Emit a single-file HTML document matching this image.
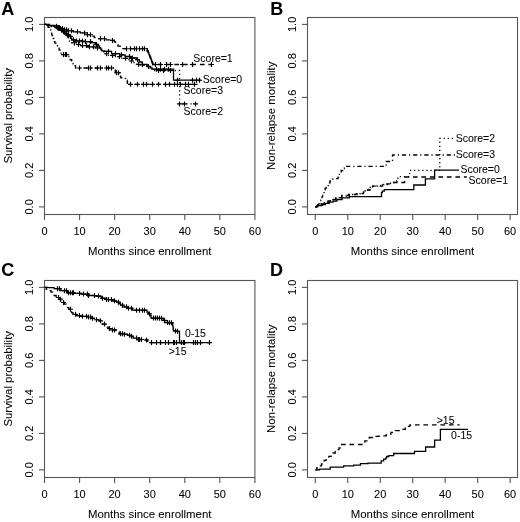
<!DOCTYPE html>
<html><head><meta charset="utf-8"><style>
html,body{margin:0;padding:0;background:#fff;}
body{width:520px;height:522px;overflow:hidden;}
svg{display:block;filter:blur(0.35px);}
text{font-family:"Liberation Sans", sans-serif;fill:#000;stroke:#000;stroke-width:0.05px;}
.t{font-size:11px;}
.ti{font-size:11.4px;}
.lg{font-size:10.5px;}
.lab{font-size:18px;font-weight:bold;fill:#000;}
</style></head><body>
<svg width="520" height="522" viewBox="0 0 520 522">
<rect width="520" height="522" fill="#fff"/>
<rect x="44.5" y="17.5" width="210.4" height="197.0" fill="none" stroke="#555" stroke-width="1.1"/>
<line x1="44.50" y1="214.5" x2="44.50" y2="220.0" stroke="#555" stroke-width="1.1"/>
<text x="44.50" y="234.5" class="t" text-anchor="middle">0</text>
<line x1="79.57" y1="214.5" x2="79.57" y2="220.0" stroke="#555" stroke-width="1.1"/>
<text x="79.57" y="234.5" class="t" text-anchor="middle">10</text>
<line x1="114.64" y1="214.5" x2="114.64" y2="220.0" stroke="#555" stroke-width="1.1"/>
<text x="114.64" y="234.5" class="t" text-anchor="middle">20</text>
<line x1="149.71" y1="214.5" x2="149.71" y2="220.0" stroke="#555" stroke-width="1.1"/>
<text x="149.71" y="234.5" class="t" text-anchor="middle">30</text>
<line x1="184.78" y1="214.5" x2="184.78" y2="220.0" stroke="#555" stroke-width="1.1"/>
<text x="184.78" y="234.5" class="t" text-anchor="middle">40</text>
<line x1="219.85" y1="214.5" x2="219.85" y2="220.0" stroke="#555" stroke-width="1.1"/>
<text x="219.85" y="234.5" class="t" text-anchor="middle">50</text>
<line x1="254.92" y1="214.5" x2="254.92" y2="220.0" stroke="#555" stroke-width="1.1"/>
<text x="254.92" y="234.5" class="t" text-anchor="middle">60</text>
<line x1="39.0" y1="206.90" x2="44.5" y2="206.90" stroke="#555" stroke-width="1.1"/>
<text transform="translate(32.50,206.90) rotate(-90)" class="t" text-anchor="middle">0.0</text>
<line x1="39.0" y1="170.40" x2="44.5" y2="170.40" stroke="#555" stroke-width="1.1"/>
<text transform="translate(32.50,170.40) rotate(-90)" class="t" text-anchor="middle">0.2</text>
<line x1="39.0" y1="133.90" x2="44.5" y2="133.90" stroke="#555" stroke-width="1.1"/>
<text transform="translate(32.50,133.90) rotate(-90)" class="t" text-anchor="middle">0.4</text>
<line x1="39.0" y1="97.40" x2="44.5" y2="97.40" stroke="#555" stroke-width="1.1"/>
<text transform="translate(32.50,97.40) rotate(-90)" class="t" text-anchor="middle">0.6</text>
<line x1="39.0" y1="60.90" x2="44.5" y2="60.90" stroke="#555" stroke-width="1.1"/>
<text transform="translate(32.50,60.90) rotate(-90)" class="t" text-anchor="middle">0.8</text>
<line x1="39.0" y1="24.40" x2="44.5" y2="24.40" stroke="#555" stroke-width="1.1"/>
<text transform="translate(32.50,24.40) rotate(-90)" class="t" text-anchor="middle">1.0</text>
<text x="149.70" y="255.4" class="ti" text-anchor="middle">Months since enrollment</text>
<text transform="translate(12.40,115.8) rotate(-90)" class="ti" text-anchor="middle">Survival probability</text>
<text x="1.3" y="14.7" class="lab">A</text>
<rect x="307.5" y="17.5" width="210.0" height="197.0" fill="none" stroke="#555" stroke-width="1.1"/>
<line x1="315.30" y1="214.5" x2="315.30" y2="220.0" stroke="#555" stroke-width="1.1"/>
<text x="315.30" y="234.5" class="t" text-anchor="middle">0</text>
<line x1="347.77" y1="214.5" x2="347.77" y2="220.0" stroke="#555" stroke-width="1.1"/>
<text x="347.77" y="234.5" class="t" text-anchor="middle">10</text>
<line x1="380.24" y1="214.5" x2="380.24" y2="220.0" stroke="#555" stroke-width="1.1"/>
<text x="380.24" y="234.5" class="t" text-anchor="middle">20</text>
<line x1="412.71" y1="214.5" x2="412.71" y2="220.0" stroke="#555" stroke-width="1.1"/>
<text x="412.71" y="234.5" class="t" text-anchor="middle">30</text>
<line x1="445.18" y1="214.5" x2="445.18" y2="220.0" stroke="#555" stroke-width="1.1"/>
<text x="445.18" y="234.5" class="t" text-anchor="middle">40</text>
<line x1="477.65" y1="214.5" x2="477.65" y2="220.0" stroke="#555" stroke-width="1.1"/>
<text x="477.65" y="234.5" class="t" text-anchor="middle">50</text>
<line x1="510.12" y1="214.5" x2="510.12" y2="220.0" stroke="#555" stroke-width="1.1"/>
<text x="510.12" y="234.5" class="t" text-anchor="middle">60</text>
<line x1="302.0" y1="206.90" x2="307.5" y2="206.90" stroke="#555" stroke-width="1.1"/>
<text transform="translate(295.50,206.90) rotate(-90)" class="t" text-anchor="middle">0.0</text>
<line x1="302.0" y1="170.40" x2="307.5" y2="170.40" stroke="#555" stroke-width="1.1"/>
<text transform="translate(295.50,170.40) rotate(-90)" class="t" text-anchor="middle">0.2</text>
<line x1="302.0" y1="133.90" x2="307.5" y2="133.90" stroke="#555" stroke-width="1.1"/>
<text transform="translate(295.50,133.90) rotate(-90)" class="t" text-anchor="middle">0.4</text>
<line x1="302.0" y1="97.40" x2="307.5" y2="97.40" stroke="#555" stroke-width="1.1"/>
<text transform="translate(295.50,97.40) rotate(-90)" class="t" text-anchor="middle">0.6</text>
<line x1="302.0" y1="60.90" x2="307.5" y2="60.90" stroke="#555" stroke-width="1.1"/>
<text transform="translate(295.50,60.90) rotate(-90)" class="t" text-anchor="middle">0.8</text>
<line x1="302.0" y1="24.40" x2="307.5" y2="24.40" stroke="#555" stroke-width="1.1"/>
<text transform="translate(295.50,24.40) rotate(-90)" class="t" text-anchor="middle">1.0</text>
<text x="412.50" y="255.4" class="ti" text-anchor="middle">Months since enrollment</text>
<text transform="translate(275.40,115.8) rotate(-90)" class="ti" text-anchor="middle">Non-relapse mortality</text>
<text x="270.3" y="15.1" class="lab">B</text>
<rect x="44.5" y="280.5" width="210.4" height="197.0" fill="none" stroke="#555" stroke-width="1.1"/>
<line x1="44.50" y1="477.5" x2="44.50" y2="483.0" stroke="#555" stroke-width="1.1"/>
<text x="44.50" y="497.5" class="t" text-anchor="middle">0</text>
<line x1="79.57" y1="477.5" x2="79.57" y2="483.0" stroke="#555" stroke-width="1.1"/>
<text x="79.57" y="497.5" class="t" text-anchor="middle">10</text>
<line x1="114.64" y1="477.5" x2="114.64" y2="483.0" stroke="#555" stroke-width="1.1"/>
<text x="114.64" y="497.5" class="t" text-anchor="middle">20</text>
<line x1="149.71" y1="477.5" x2="149.71" y2="483.0" stroke="#555" stroke-width="1.1"/>
<text x="149.71" y="497.5" class="t" text-anchor="middle">30</text>
<line x1="184.78" y1="477.5" x2="184.78" y2="483.0" stroke="#555" stroke-width="1.1"/>
<text x="184.78" y="497.5" class="t" text-anchor="middle">40</text>
<line x1="219.85" y1="477.5" x2="219.85" y2="483.0" stroke="#555" stroke-width="1.1"/>
<text x="219.85" y="497.5" class="t" text-anchor="middle">50</text>
<line x1="254.92" y1="477.5" x2="254.92" y2="483.0" stroke="#555" stroke-width="1.1"/>
<text x="254.92" y="497.5" class="t" text-anchor="middle">60</text>
<line x1="39.0" y1="469.90" x2="44.5" y2="469.90" stroke="#555" stroke-width="1.1"/>
<text transform="translate(32.50,469.90) rotate(-90)" class="t" text-anchor="middle">0.0</text>
<line x1="39.0" y1="433.40" x2="44.5" y2="433.40" stroke="#555" stroke-width="1.1"/>
<text transform="translate(32.50,433.40) rotate(-90)" class="t" text-anchor="middle">0.2</text>
<line x1="39.0" y1="396.90" x2="44.5" y2="396.90" stroke="#555" stroke-width="1.1"/>
<text transform="translate(32.50,396.90) rotate(-90)" class="t" text-anchor="middle">0.4</text>
<line x1="39.0" y1="360.40" x2="44.5" y2="360.40" stroke="#555" stroke-width="1.1"/>
<text transform="translate(32.50,360.40) rotate(-90)" class="t" text-anchor="middle">0.6</text>
<line x1="39.0" y1="323.90" x2="44.5" y2="323.90" stroke="#555" stroke-width="1.1"/>
<text transform="translate(32.50,323.90) rotate(-90)" class="t" text-anchor="middle">0.8</text>
<line x1="39.0" y1="287.40" x2="44.5" y2="287.40" stroke="#555" stroke-width="1.1"/>
<text transform="translate(32.50,287.40) rotate(-90)" class="t" text-anchor="middle">1.0</text>
<text x="149.70" y="518.4" class="ti" text-anchor="middle">Months since enrollment</text>
<text transform="translate(12.40,378.8) rotate(-90)" class="ti" text-anchor="middle">Survival probability</text>
<text x="1.3" y="275.6" class="lab">C</text>
<rect x="307.5" y="280.5" width="210.0" height="197.0" fill="none" stroke="#555" stroke-width="1.1"/>
<line x1="315.30" y1="477.5" x2="315.30" y2="483.0" stroke="#555" stroke-width="1.1"/>
<text x="315.30" y="497.5" class="t" text-anchor="middle">0</text>
<line x1="347.77" y1="477.5" x2="347.77" y2="483.0" stroke="#555" stroke-width="1.1"/>
<text x="347.77" y="497.5" class="t" text-anchor="middle">10</text>
<line x1="380.24" y1="477.5" x2="380.24" y2="483.0" stroke="#555" stroke-width="1.1"/>
<text x="380.24" y="497.5" class="t" text-anchor="middle">20</text>
<line x1="412.71" y1="477.5" x2="412.71" y2="483.0" stroke="#555" stroke-width="1.1"/>
<text x="412.71" y="497.5" class="t" text-anchor="middle">30</text>
<line x1="445.18" y1="477.5" x2="445.18" y2="483.0" stroke="#555" stroke-width="1.1"/>
<text x="445.18" y="497.5" class="t" text-anchor="middle">40</text>
<line x1="477.65" y1="477.5" x2="477.65" y2="483.0" stroke="#555" stroke-width="1.1"/>
<text x="477.65" y="497.5" class="t" text-anchor="middle">50</text>
<line x1="510.12" y1="477.5" x2="510.12" y2="483.0" stroke="#555" stroke-width="1.1"/>
<text x="510.12" y="497.5" class="t" text-anchor="middle">60</text>
<line x1="302.0" y1="469.90" x2="307.5" y2="469.90" stroke="#555" stroke-width="1.1"/>
<text transform="translate(295.50,469.90) rotate(-90)" class="t" text-anchor="middle">0.0</text>
<line x1="302.0" y1="433.40" x2="307.5" y2="433.40" stroke="#555" stroke-width="1.1"/>
<text transform="translate(295.50,433.40) rotate(-90)" class="t" text-anchor="middle">0.2</text>
<line x1="302.0" y1="396.90" x2="307.5" y2="396.90" stroke="#555" stroke-width="1.1"/>
<text transform="translate(295.50,396.90) rotate(-90)" class="t" text-anchor="middle">0.4</text>
<line x1="302.0" y1="360.40" x2="307.5" y2="360.40" stroke="#555" stroke-width="1.1"/>
<text transform="translate(295.50,360.40) rotate(-90)" class="t" text-anchor="middle">0.6</text>
<line x1="302.0" y1="323.90" x2="307.5" y2="323.90" stroke="#555" stroke-width="1.1"/>
<text transform="translate(295.50,323.90) rotate(-90)" class="t" text-anchor="middle">0.8</text>
<line x1="302.0" y1="287.40" x2="307.5" y2="287.40" stroke="#555" stroke-width="1.1"/>
<text transform="translate(295.50,287.40) rotate(-90)" class="t" text-anchor="middle">1.0</text>
<text x="412.50" y="518.4" class="ti" text-anchor="middle">Months since enrollment</text>
<text transform="translate(275.40,378.8) rotate(-90)" class="ti" text-anchor="middle">Non-relapse mortality</text>
<text x="270.1" y="275.6" class="lab">D</text>
<path d="M44.50 24.40L46.55 24.40L46.55 25.00L48.60 25.00L50.30 25.00L50.30 25.70L52.00 25.70L53.45 25.70L53.45 26.30L54.90 26.30L56.35 26.30L56.35 27.50L57.80 27.50L59.25 27.50L59.25 28.60L60.70 28.60L62.10 28.60L62.10 29.80L63.50 29.80L66.75 29.80L66.75 30.80L70.00 30.80L73.45 30.80L73.45 31.80L76.90 31.80L80.35 31.80L80.35 32.90L83.80 32.90L87.30 32.90L87.30 34.70L90.80 34.70L91.95 34.70L91.95 36.10L94.25 36.10L94.25 37.50L95.40 37.50L97.70 37.50L97.70 38.70L100.00 38.70L104.05 38.70L104.05 39.80L108.10 39.80L110.95 39.80L110.95 40.40L113.80 40.40L114.40 40.40L114.40 41.85L115.60 41.85L115.60 43.30L116.20 43.30L116.78 43.30L116.78 44.75L117.92 44.75L117.92 46.20L118.50 46.20L120.20 46.20L120.20 47.50L121.90 47.50L122.20 47.50L122.20 48.70L122.50 48.70L146.70 48.70L147.25 48.70L147.25 51.00L147.80 51.00L148.20 51.00L148.20 52.93L149.00 52.93L149.00 54.87L149.80 54.87L149.80 56.80L150.20 56.80L150.48 56.80L150.48 58.33L151.05 58.33L151.05 59.87L151.62 59.87L151.62 61.40L151.90 61.40L152.18 61.40L152.18 62.95L152.72 62.95L152.72 64.50L153.00 64.50L211.60 64.50" fill="none" stroke="#000" stroke-width="1.3" stroke-dasharray="4.7 3.8"/>
<path d="M54.00 26.30h5M56.50 23.80v5M56.00 27.50h5M58.50 25.00v5M58.00 28.60h5M60.50 26.10v5M60.00 28.60h5M62.50 26.10v5M62.00 29.80h5M64.50 27.30v5M64.00 29.80h5M66.50 27.30v5M66.00 30.80h5M68.50 28.30v5M69.00 30.80h5M71.50 28.30v5M75.00 31.80h5M77.50 29.30v5M82.00 32.90h5M84.50 30.40v5M85.00 34.70h5M87.50 32.20v5M88.00 34.70h5M90.50 32.20v5M98.00 38.70h5M100.50 36.20v5M102.00 38.70h5M104.50 36.20v5M110.00 40.40h5M112.50 37.90v5M124.00 48.70h5M126.50 46.20v5M128.00 48.70h5M130.50 46.20v5M132.00 48.70h5M134.50 46.20v5M134.00 48.70h5M136.50 46.20v5M137.00 48.70h5M139.50 46.20v5M140.00 48.70h5M142.50 46.20v5M142.00 48.70h5M144.50 46.20v5M153.00 64.50h5M155.50 62.00v5M158.00 64.50h5M160.50 62.00v5M164.00 64.50h5M166.50 62.00v5M168.00 64.50h5M170.50 62.00v5M180.00 64.50h5M182.50 62.00v5M190.00 64.50h5M192.50 62.00v5M209.00 64.50h5M211.50 62.00v5" fill="none" stroke="#000" stroke-width="1.15"/>
<path d="M146.70 48.70L147.25 48.70L147.25 51.00L147.80 51.00L148.20 51.00L148.20 52.93L149.00 52.93L149.00 54.87L149.80 54.87L149.80 56.80L150.20 56.80L150.48 56.80L150.48 58.33L151.05 58.33L151.05 59.87L151.62 59.87L151.62 61.40L151.90 61.40L152.18 61.40L152.18 62.95L152.72 62.95L152.72 64.50L153.00 64.50L155.00 64.50" fill="none" stroke="#000" stroke-width="1.3" />
<path d="M44.50 24.40L48.25 24.40L48.25 25.50L52.00 25.50L54.90 25.50L54.90 27.70L57.80 27.70L59.22 27.70L59.22 29.60L62.08 29.60L62.08 31.50L63.50 31.50L64.95 31.50L64.95 33.80L66.40 33.80L67.30 33.80L67.30 35.10L69.10 35.10L69.10 36.40L70.00 36.40L70.58 36.40L70.58 38.10L71.72 38.10L71.72 39.80L72.30 39.80L74.60 39.80L74.60 41.00L76.90 41.00L82.10 41.00L82.10 41.60L87.30 41.60L90.20 41.60L90.20 42.70L93.10 42.70L95.40 42.70L95.40 44.50L97.70 44.50L98.28 44.50L98.28 45.90L99.42 45.90L99.42 47.30L100.00 47.30L100.58 47.30L100.58 49.05L101.72 49.05L101.72 50.80L102.30 50.80L104.60 50.80L104.60 51.40L106.90 51.40L111.55 51.40L111.55 53.70L116.20 53.70L119.65 53.70L119.65 54.80L123.10 54.80L125.10 54.80L125.10 56.50L127.10 56.50L130.55 56.50L130.55 58.00L134.00 58.00L136.30 58.00L136.30 59.70L138.60 59.70L139.30 59.70L139.30 62.00L140.00 62.00L142.20 62.00L142.20 64.50L144.40 64.50L147.20 64.50L147.20 66.50L150.00 66.50L150.62 66.50L150.62 67.85L151.88 67.85L151.88 69.20L152.50 69.20L173.50 69.20L173.50 80.20L200.80 80.20" fill="none" stroke="#000" stroke-width="1.3" />
<path d="M55.00 27.70h5M57.50 25.20v5M57.00 27.70h5M59.50 25.20v5M62.00 31.50h5M64.50 29.00v5M64.00 33.80h5M66.50 31.30v5M66.00 35.10h5M68.50 32.60v5M68.00 36.40h5M70.50 33.90v5M71.00 39.80h5M73.50 37.30v5M74.00 41.00h5M76.50 38.50v5M77.00 41.00h5M79.50 38.50v5M80.00 41.00h5M82.50 38.50v5M83.00 41.60h5M85.50 39.10v5M88.00 41.60h5M90.50 39.10v5M94.00 44.50h5M96.50 42.00v5M106.00 51.40h5M108.50 48.90v5M113.00 53.70h5M115.50 51.20v5M119.00 54.80h5M121.50 52.30v5M127.00 56.50h5M129.50 54.00v5M130.00 58.00h5M132.50 55.50v5M135.00 59.70h5M137.50 57.20v5M146.00 66.50h5M148.50 64.00v5M154.00 69.20h5M156.50 66.70v5M158.00 69.20h5M160.50 66.70v5M162.00 69.20h5M164.50 66.70v5M166.00 69.20h5M168.50 66.70v5M175.00 80.20h5M177.50 77.70v5M190.00 80.20h5M192.50 77.70v5M194.00 80.20h5M196.50 77.70v5M197.00 80.20h5M199.50 77.70v5" fill="none" stroke="#000" stroke-width="1.15"/>
<text x="202.8" y="83.3" class="lg">Score=0</text>
<path d="M44.50 24.40L49.75 24.40L49.75 26.50L55.00 26.50L56.25 26.50L56.25 28.25L58.75 28.25L58.75 30.00L60.00 30.00L61.25 30.00L61.25 31.75L63.75 31.75L63.75 33.50L65.00 33.50L65.75 33.50L65.75 35.25L67.25 35.25L67.25 37.00L68.00 37.00L68.50 37.00L68.50 39.00L69.50 39.00L69.50 41.00L70.00 41.00L71.45 41.00L71.45 42.75L74.35 42.75L74.35 44.50L75.80 44.50L78.65 44.50L78.65 45.60L81.50 45.60L87.30 45.60L87.30 46.80L93.10 46.80L95.40 46.80L95.40 47.90L97.70 47.90L99.45 47.90L99.45 50.20L101.20 50.20L102.05 50.20L102.05 51.95L103.75 51.95L103.75 53.70L104.60 53.70L107.50 53.70L107.50 55.40L110.40 55.40L114.45 55.40L114.45 56.60L118.50 56.60L121.95 56.60L121.95 58.30L125.40 58.30L127.70 58.30L127.70 59.50L130.00 59.50L130.70 59.50L130.70 61.00L132.10 61.00L132.10 62.50L132.80 62.50L134.00 62.50L134.00 64.30L135.20 64.30L139.80 64.30L139.80 64.80L144.40 64.80L146.10 64.80L146.10 66.00L147.80 66.00L149.00 66.00L149.00 68.30L150.20 68.30L152.60 68.30L152.60 70.50L155.00 70.50L179.60 70.50L179.60 103.90L195.60 103.90" fill="none" stroke="#000" stroke-width="1.3" stroke-dasharray="1.2 2.9"/>
<path d="M56.00 28.25h5M58.50 25.75v5M59.00 30.00h5M61.50 27.50v5M61.00 31.75h5M63.50 29.25v5M65.00 35.25h5M67.50 32.75v5M72.00 42.75h5M74.50 40.25v5M76.00 44.50h5M78.50 42.00v5M80.00 45.60h5M82.50 43.10v5M84.00 45.60h5M86.50 43.10v5M87.00 46.80h5M89.50 44.30v5M91.00 46.80h5M93.50 44.30v5M95.00 47.90h5M97.50 45.40v5M104.00 53.70h5M106.50 51.20v5M110.00 55.40h5M112.50 52.90v5M117.00 56.60h5M119.50 54.10v5M123.00 58.30h5M125.50 55.80v5M129.00 61.00h5M131.50 58.50v5M136.00 64.30h5M138.50 61.80v5M140.00 64.80h5M142.50 62.30v5M156.00 70.50h5M158.50 68.00v5M161.00 70.50h5M163.50 68.00v5M168.00 70.50h5M170.50 68.00v5M177.00 103.90h5M179.50 101.40v5M182.00 103.90h5M184.50 101.40v5M193.00 103.90h5M195.50 101.40v5" fill="none" stroke="#000" stroke-width="1.15"/>
<path d="M44.50 24.40L45.73 24.40L45.73 25.85L48.17 25.85L48.17 27.30L49.40 27.30L49.88 27.30L49.88 28.65L50.82 28.65L50.82 30.00L51.30 30.00L51.40 30.00L51.40 32.10L51.60 32.10L51.60 34.20L51.70 34.20L52.02 34.20L52.02 35.63L52.65 35.63L52.65 37.07L53.28 37.07L53.28 38.50L53.60 38.50L53.87 38.50L53.87 40.03L54.40 40.03L54.40 41.57L54.93 41.57L54.93 43.10L55.20 43.10L55.95 43.10L55.95 44.65L57.45 44.65L57.45 46.20L58.20 46.20L58.50 46.20L58.50 48.10L59.10 48.10L59.10 50.00L59.40 50.00L59.95 50.00L59.95 52.30L60.50 52.30L61.10 52.30L61.10 54.60L61.70 54.60L67.00 54.60L67.60 54.60L67.60 56.15L68.80 56.15L68.80 57.70L69.40 57.70L70.18 57.70L70.18 59.75L71.72 59.75L71.72 61.80L72.50 61.80L73.08 61.80L73.08 63.75L74.22 63.75L74.22 65.70L74.80 65.70L75.55 65.70L75.55 68.00L76.30 68.00L114.80 68.00L114.90 68.00L114.90 70.00L115.00 70.00L115.25 70.00L115.25 71.35L115.75 71.35L115.75 72.70L116.00 72.70L119.60 72.70L119.75 72.70L119.75 74.45L120.05 74.45L120.05 76.20L120.20 76.20L120.75 76.20L120.75 77.90L121.30 77.90L122.75 77.90L122.75 78.50L124.20 78.50L125.65 78.50L125.65 80.20L127.10 80.20L127.25 80.20L127.25 82.25L127.55 82.25L127.55 84.30L127.70 84.30L198.00 84.30" fill="none" stroke="#000" stroke-width="1.3" stroke-dasharray="1.2 2.9 4.2 2.9"/>
<path d="M61.00 54.60h5M63.50 52.10v5M63.00 54.60h5M65.50 52.10v5M64.00 54.60h5M66.50 52.10v5M77.00 68.00h5M79.50 65.50v5M86.00 68.00h5M88.50 65.50v5M88.00 68.00h5M90.50 65.50v5M95.00 68.00h5M97.50 65.50v5M98.00 68.00h5M100.50 65.50v5M104.00 68.00h5M106.50 65.50v5M106.00 68.00h5M108.50 65.50v5M109.00 68.00h5M111.50 65.50v5M114.00 72.70h5M116.50 70.20v5M116.00 72.70h5M118.50 70.20v5M128.00 84.30h5M130.50 81.80v5M135.00 84.30h5M137.50 81.80v5M141.00 84.30h5M143.50 81.80v5M144.00 84.30h5M146.50 81.80v5M150.00 84.30h5M152.50 81.80v5M156.00 84.30h5M158.50 81.80v5M163.00 84.30h5M165.50 81.80v5M167.00 84.30h5M169.50 81.80v5M172.00 84.30h5M174.50 81.80v5M175.00 84.30h5M177.50 81.80v5M178.00 84.30h5M180.50 81.80v5M183.00 84.30h5M185.50 81.80v5M186.00 84.30h5M188.50 81.80v5M192.00 84.30h5M194.50 81.80v5" fill="none" stroke="#000" stroke-width="1.15"/>
<text x="193.3" y="61.7" class="lg">Score=1</text>
<text x="183.6" y="94.3" class="lg">Score=3</text>
<text x="183.6" y="114.6" class="lg">Score=2</text>
<path d="M315.30 206.90L316.40 206.90L316.40 205.50L317.50 205.50L318.50 205.50L318.50 203.80L319.50 203.80L320.05 203.80L320.05 202.10L320.60 202.10L320.85 202.10L320.85 200.20L321.35 200.20L321.35 198.30L321.60 198.30L321.95 198.30L321.95 196.85L322.65 196.85L322.65 195.40L323.00 195.40L323.35 195.40L323.35 193.50L324.05 193.50L324.05 191.60L324.40 191.60L324.65 191.60L324.65 189.90L325.15 189.90L325.15 188.20L325.40 188.20L326.35 188.20L326.35 187.30L327.30 187.30L328.25 187.30L328.25 184.90L329.20 184.90L329.45 184.90L329.45 183.00L329.95 183.00L329.95 181.10L330.20 181.10L330.45 181.10L330.45 179.60L330.70 179.60L332.35 179.60L332.35 179.10L334.00 179.10L335.90 179.10L335.90 178.70L337.80 178.70L338.05 178.70L338.05 177.20L338.30 177.20L338.68 177.20L338.68 175.30L339.43 175.30L339.43 173.40L339.80 173.40L340.27 173.40L340.27 171.95L341.23 171.95L341.23 170.50L341.70 170.50L342.65 170.50L342.65 168.60L343.60 168.60L344.30 168.60L344.30 166.40L345.00 166.40L386.20 166.40L386.20 161.50L392.50 161.50L392.50 155.00L455.20 155.00" fill="none" stroke="#000" stroke-width="1.3" stroke-dasharray="1.2 2.9 4.2 2.9"/>
<path d="M315.30 206.90L317.50 206.90L317.50 205.60L319.70 205.60L321.60 205.60L321.60 204.50L323.50 204.50L325.40 204.50L325.40 203.30L327.30 203.30L329.20 203.30L329.20 202.20L331.10 202.20L333.05 202.20L333.05 201.00L335.00 201.00L336.90 201.00L336.90 199.50L338.80 199.50L342.15 199.50L342.15 197.90L345.50 197.90L349.35 197.90L349.35 196.70L353.20 196.70L381.50 196.70L381.50 192.70L382.30 192.70L382.30 191.20L383.10 191.20L384.30 191.20L384.30 189.60L385.50 189.60L413.80 189.60L413.80 185.00L425.40 185.00L425.40 178.80L434.60 178.80L434.60 170.20L459.10 170.20" fill="none" stroke="#000" stroke-width="1.3" />
<path d="M315.30 206.90L316.65 206.90L316.65 205.80L318.00 205.80L320.20 205.80L320.20 204.00L322.40 204.00L324.20 204.00L324.20 202.50L326.00 202.50L328.05 202.50L328.05 201.00L330.10 201.00L332.05 201.00L332.05 199.30L334.00 199.30L335.90 199.30L335.90 197.60L337.80 197.60L341.65 197.60L341.65 195.50L345.50 195.50L349.35 195.50L349.35 194.50L353.20 194.50L357.00 194.50L357.00 193.60L360.80 193.60L363.40 193.60L363.40 192.00L366.00 192.00L367.50 192.00L367.50 190.00L369.00 190.00L370.10 190.00L370.10 188.10L371.20 188.10L372.50 188.10L372.50 186.20L373.80 186.20L380.00 186.20L382.50 186.20L382.50 185.00L385.00 185.00L386.90 185.00L386.90 183.80L388.80 183.80L390.65 183.80L390.65 182.50L392.50 182.50L404.60 182.50L404.60 177.00L466.80 177.00" fill="none" stroke="#000" stroke-width="1.3" stroke-dasharray="4.7 3.8"/>
<path d="M315.30 206.90L317.65 206.90L317.65 205.00L320.00 205.00L322.50 205.00L322.50 203.00L325.00 203.00L327.50 203.00L327.50 200.70L330.00 200.70L333.00 200.70L333.00 198.20L336.00 198.20L339.35 198.20L339.35 196.20L342.70 196.20L346.35 196.20L346.35 194.50L350.00 194.50L353.75 194.50L353.75 193.80L357.50 193.80L360.00 193.80L360.00 192.80L362.50 192.80L365.00 192.80L365.00 190.80L367.50 190.80L368.43 190.80L368.43 189.15L370.27 189.15L370.27 187.50L371.20 187.50L373.10 187.50L373.10 186.00L375.00 186.00L377.50 186.00L377.50 185.50L380.00 185.50L382.50 185.50L382.50 184.50L385.00 184.50L387.50 184.50L387.50 183.20L390.00 183.20L392.50 183.20L392.50 182.50L395.00 182.50L395.70 182.50L395.70 181.00L397.10 181.00L397.10 179.50L397.80 179.50L397.90 179.50L397.90 178.05L398.10 178.05L398.10 176.60L398.20 176.60L409.60 176.60L409.60 170.40L439.80 170.40L439.80 138.40L454.50 138.40" fill="none" stroke="#000" stroke-width="1.3" stroke-dasharray="1.2 2.9"/>
<text x="455.7" y="142.0" class="lg">Score=2</text>
<text x="455.7" y="158.0" class="lg">Score=3</text>
<text x="460.4" y="173.0" class="lg">Score=0</text>
<text x="468.6" y="183.9" class="lg">Score=1</text>
<path d="M44.50 287.40L47.60 287.40L47.60 287.70L50.70 287.70L54.10 287.70L54.10 288.70L57.50 288.70L60.85 288.70L60.85 290.70L64.20 290.70L67.55 290.70L67.55 292.80L70.90 292.80L74.25 292.80L74.25 293.40L77.60 293.40L81.00 293.40L81.00 294.10L84.40 294.10L87.75 294.10L87.75 295.50L91.10 295.50L94.45 295.50L94.45 296.10L97.80 296.10L101.20 296.10L101.20 298.20L104.60 298.20L105.95 298.20L105.95 299.50L107.30 299.50L108.65 299.50L108.65 299.60L110.00 299.60L112.70 299.60L112.70 300.80L115.40 300.80L116.40 300.80L116.40 302.15L118.40 302.15L118.40 303.50L119.40 303.50L120.43 303.50L120.43 305.15L122.47 305.15L122.47 306.80L123.50 306.80L126.85 306.80L126.85 308.20L130.20 308.20L132.20 308.20L132.20 310.20L134.20 310.20L146.30 310.20L147.00 310.20L147.00 312.20L147.70 312.20L148.38 312.20L148.38 313.90L149.72 313.90L149.72 315.60L150.40 315.60L151.05 315.60L151.05 318.10L151.70 318.10L157.10 318.10L157.10 318.30L162.50 318.30L163.15 318.30L163.15 320.30L163.80 320.30L164.50 320.30L164.50 322.50L165.20 322.50L168.65 322.50L168.65 322.80L172.10 322.80L172.45 322.80L172.45 324.80L172.80 324.80L172.89 324.80L172.89 326.32L173.06 326.32L173.06 327.85L173.24 327.85L173.24 329.38L173.41 329.38L173.41 330.90L173.50 330.90L176.15 330.90L176.15 331.30L178.80 331.30L179.15 331.30L179.15 331.50L179.50 331.50L179.50 342.60L209.80 342.60" fill="none" stroke="#000" stroke-width="1.3" />
<path d="M55.00 288.70h5M57.50 286.20v5M57.00 288.70h5M59.50 286.20v5M62.00 290.70h5M64.50 288.20v5M64.00 290.70h5M66.50 288.20v5M66.00 292.80h5M68.50 290.30v5M68.00 292.80h5M70.50 290.30v5M70.00 292.80h5M72.50 290.30v5M71.00 292.80h5M73.50 290.30v5M77.00 293.40h5M79.50 290.90v5M81.00 294.10h5M83.50 291.60v5M85.00 294.10h5M87.50 291.60v5M86.00 295.50h5M88.50 293.00v5M92.00 295.50h5M94.50 293.00v5M96.00 296.10h5M98.50 293.60v5M100.00 298.20h5M102.50 295.70v5M104.00 299.50h5M106.50 297.00v5M106.00 299.50h5M108.50 297.00v5M109.00 299.60h5M111.50 297.10v5M112.00 300.80h5M114.50 298.30v5M116.00 302.15h5M118.50 299.65v5M120.00 305.15h5M122.50 302.65v5M124.00 306.80h5M126.50 304.30v5M126.00 308.20h5M128.50 305.70v5M129.00 308.20h5M131.50 305.70v5M134.00 310.20h5M136.50 307.70v5M137.00 310.20h5M139.50 307.70v5M140.00 310.20h5M142.50 307.70v5M142.00 310.20h5M144.50 307.70v5M147.00 313.90h5M149.50 311.40v5M151.00 318.10h5M153.50 315.60v5M153.00 318.10h5M155.50 315.60v5M155.00 318.10h5M157.50 315.60v5M157.00 318.30h5M159.50 315.80v5M159.00 318.30h5M161.50 315.80v5M162.00 320.30h5M164.50 317.80v5M165.00 322.50h5M167.50 320.00v5M167.00 322.80h5M169.50 320.30v5M169.00 322.80h5M171.50 320.30v5M173.00 330.90h5M175.50 328.40v5M175.00 331.30h5M177.50 328.80v5M179.00 342.60h5M181.50 340.10v5M181.00 342.60h5M183.50 340.10v5M191.00 342.60h5M193.50 340.10v5M193.00 342.60h5M195.50 340.10v5M195.00 342.60h5M197.50 340.10v5M198.00 342.60h5M200.50 340.10v5M207.00 342.60h5M209.50 340.10v5" fill="none" stroke="#000" stroke-width="1.15"/>
<path d="M44.50 287.40L46.25 287.40L46.25 289.40L48.00 289.40L49.02 289.40L49.02 290.75L51.08 290.75L51.08 292.10L52.10 292.10L52.77 292.10L52.77 293.80L54.12 293.80L54.12 295.50L54.80 295.50L56.15 295.50L56.15 297.50L57.50 297.50L58.50 297.50L58.50 299.15L60.50 299.15L60.50 300.80L61.50 300.80L62.50 300.80L62.50 302.50L64.50 302.50L64.50 304.20L65.50 304.20L66.17 304.20L66.17 305.90L67.53 305.90L67.53 307.60L68.20 307.60L68.88 307.60L68.88 309.25L70.23 309.25L70.23 310.90L70.90 310.90L71.58 310.90L71.58 312.60L72.92 312.60L72.92 314.30L73.60 314.30L75.60 314.30L75.60 315.60L77.60 315.60L81.00 315.60L81.00 316.30L84.40 316.30L87.10 316.30L87.10 317.00L89.80 317.00L91.80 317.00L91.80 318.30L93.80 318.30L95.80 318.30L95.80 319.70L97.80 319.70L98.90 319.70L98.90 320.80L100.00 320.80L100.72 320.80L100.72 322.45L102.18 322.45L102.18 324.10L102.90 324.10L104.80 324.10L104.80 325.60L106.70 325.60L107.20 325.60L107.20 327.05L108.20 327.05L108.20 328.50L108.70 328.50L111.55 328.50L111.55 329.90L114.40 329.90L115.85 329.90L115.85 331.80L117.30 331.80L119.25 331.80L119.25 333.80L121.20 333.80L123.60 333.80L123.60 334.20L126.00 334.20L127.40 334.20L127.40 335.20L128.80 335.20L130.25 335.20L130.25 336.20L131.70 336.20L133.15 336.20L133.15 338.10L134.60 338.10L136.55 338.10L136.55 339.50L138.50 339.50L142.80 339.50L142.80 340.00L147.10 340.00L147.57 340.00L147.57 341.30L148.53 341.30L148.53 342.60L149.00 342.60L185.00 342.60" fill="none" stroke="#000" stroke-width="1.3" stroke-dasharray="4.7 3.8"/>
<path d="M56.00 297.50h5M58.50 295.00v5M58.00 299.15h5M60.50 296.65v5M61.00 302.50h5M63.50 300.00v5M68.00 309.25h5M70.50 306.75v5M73.00 314.30h5M75.50 311.80v5M77.00 315.60h5M79.50 313.10v5M80.00 316.30h5M82.50 313.80v5M84.00 316.30h5M86.50 313.80v5M86.00 317.00h5M88.50 314.50v5M88.00 317.00h5M90.50 314.50v5M90.00 318.30h5M92.50 315.80v5M94.00 319.70h5M96.50 317.20v5M98.00 320.80h5M100.50 318.30v5M102.00 324.10h5M104.50 321.60v5M107.00 328.50h5M109.50 326.00v5M110.00 329.90h5M112.50 327.40v5M112.00 329.90h5M114.50 327.40v5M118.00 333.80h5M120.50 331.30v5M120.00 333.80h5M122.50 331.30v5M122.00 334.20h5M124.50 331.70v5M127.00 335.20h5M129.50 332.70v5M129.00 336.20h5M131.50 333.70v5M134.00 338.10h5M136.50 335.60v5M136.00 339.50h5M138.50 337.00v5M137.00 339.50h5M139.50 337.00v5M139.00 339.50h5M141.50 337.00v5M144.00 340.00h5M146.50 337.50v5M149.00 342.60h5M151.50 340.10v5M154.00 342.60h5M156.50 340.10v5M158.00 342.60h5M160.50 340.10v5M163.00 342.60h5M165.50 340.10v5M166.00 342.60h5M168.50 340.10v5M171.00 342.60h5M173.50 340.10v5M172.00 342.60h5M174.50 340.10v5M174.00 342.60h5M176.50 340.10v5M179.00 342.60h5M181.50 340.10v5M182.00 342.60h5M184.50 340.10v5" fill="none" stroke="#000" stroke-width="1.15"/>
<text x="184.9" y="337.1" class="lg">0-15</text>
<text x="168.7" y="355.4" class="lg">&gt;15</text>
<path d="M315.40 469.90L316.75 469.90L316.75 467.85L319.45 467.85L319.45 465.80L320.80 465.80L321.47 465.80L321.47 464.00L322.80 464.00L322.80 462.20L324.13 462.20L324.13 460.40L324.80 460.40L326.15 460.40L326.15 458.35L328.85 458.35L328.85 456.30L330.20 456.30L331.20 456.30L331.20 454.65L333.20 454.65L333.20 453.00L334.20 453.00L335.23 453.00L335.23 451.30L337.27 451.30L337.27 449.60L338.30 449.60L338.97 449.60L338.97 447.90L340.30 447.90L340.30 446.20L341.63 446.20L341.63 444.50L342.30 444.50L362.50 444.50L363.15 444.50L363.15 442.20L363.80 442.20L364.82 442.20L364.82 440.85L366.88 440.85L366.88 439.50L367.90 439.50L369.25 439.50L369.25 437.50L370.60 437.50L372.60 437.50L372.60 436.40L374.60 436.40L379.15 436.40L379.15 435.80L383.70 435.80L386.25 435.80L386.25 434.00L388.80 434.00L390.98 434.00L390.98 432.30L395.32 432.30L395.32 430.60L397.50 430.60L400.10 430.60L400.10 429.30L405.30 429.30L405.30 428.00L407.90 428.00L408.55 428.00L408.55 426.45L409.85 426.45L409.85 424.90L410.50 424.90L459.60 424.90" fill="none" stroke="#000" stroke-width="1.3" stroke-dasharray="4.7 3.8"/>
<path d="M315.40 469.90L319.45 469.90L319.45 469.10L323.50 469.10L330.20 469.10L330.20 467.10L336.90 467.10L343.65 467.10L343.65 465.80L350.40 465.80L353.75 465.80L353.75 465.10L357.10 465.10L360.45 465.10L360.45 463.70L363.80 463.70L367.85 463.70L367.85 463.10L371.90 463.10L376.20 463.10L376.20 463.20L380.50 463.20L381.20 463.20L381.20 460.80L381.90 460.80L383.65 460.80L383.65 459.10L385.40 459.10L385.82 459.10L385.82 457.80L386.68 457.80L386.68 456.50L387.10 456.50L388.85 456.50L388.85 455.70L390.60 455.70L393.60 455.70L393.60 453.50L396.60 453.50L414.50 453.50L414.50 451.30L425.60 451.30L425.60 447.00L434.60 447.00L434.60 440.10L440.40 440.10L440.40 429.40L468.10 429.40" fill="none" stroke="#000" stroke-width="1.3" />
<text x="436.7" y="423.5" class="lg">&gt;15</text>
<text x="451.1" y="439.1" class="lg">0-15</text>
</svg>
</body></html>
